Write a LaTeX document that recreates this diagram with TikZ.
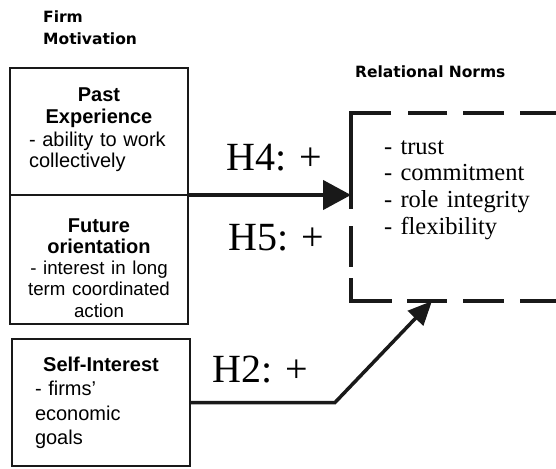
\documentclass[tikz,border=0pt]{standalone}
\usepackage{fontspec}
\setmainfont{Liberation Serif}
\setsansfont{Liberation Sans}
\newfontfamily\headfont{DejaVu Sans}
\usetikzlibrary{arrows.meta, positioning}
\tikzset{
  motive/.style={rectangle, draw=black!90, line width=1.6pt, minimum width=178pt,
                 inner sep=0pt, outer sep=0pt},
  motivetxt/.style={inner sep=0pt, anchor=base, text width=140pt,
                    font=\sffamily\fontsize{20}{22}\selectfont},
  heading/.style={inner sep=0pt, anchor=base west, text width=200pt, align=left,
                  font=\headfont\bfseries\fontsize{15.5}{22}\selectfont},
  normtxt/.style={inner sep=0pt, anchor=base west, text width=160pt, align=left,
                  font=\rmfamily\fontsize{24.5}{26.7}\selectfont},
  hyplbl/.style={inner sep=0pt, anchor=base west, font=\rmfamily\fontsize{40}{40}\selectfont},
  normline/.style={line width=3.5pt, draw=black!90},
  link/.style={-{Triangle[length=28pt, width=29pt]}, line width=4.5pt, draw=black!90},
  linkthin/.style={-{Triangle[length=24pt, width=21pt]}, line width=3.5pt, draw=black!90},
}

\begin{document}
\begin{tikzpicture}[x=1pt, y=-1pt]
    \clip (0,0) rectangle (556,468);

    % motivation side
    \node[heading] (firm) at (43,23) {Firm\\Motivation};
    \node[motive, anchor=north west, minimum height=127pt] (past) at (10,68) {};
    \node[motive, minimum height=129pt, below=0pt of past] (future) {};
    \node[motive, minimum height=127pt, below=15pt of future, xshift=2pt] (self) {};

    \node[motivetxt, below=34pt of past.north, anchor=base] (pasttxt)
        {\centering\bfseries Past\\Experience\par\raggedright\mdseries - ability to work collectively\par};
    \node[motivetxt, below=37pt of future.north, anchor=base, text width=158pt, font=\sffamily\fontsize{20}{21.3}\selectfont] (futuretxt)
        {\centering\bfseries Future\\orientation\par\mdseries\fontsize{18.7}{21.3}\selectfont - interest in long\\term coordinated\\action\par};
    \node[motivetxt, below=32pt of self.north, anchor=base, text width=132pt, font=\sffamily\fontsize{20}{24.5}\selectfont] (selftxt)
        {\centering\bfseries Self-Interest\par\raggedright\mdseries - firms’\\economic\\goals\par};

    % relational norms
    \node[heading] (normhead) at (355,78) {Relational Norms};
    \node[anchor=north west, minimum width=230pt, minimum height=188pt, inner sep=0pt, outer sep=0pt] (norms) at (351,113) {};
    \node[normtxt] (normlist) at ([xshift=33pt, yshift=-41pt]norms.north west)
        {- trust\\- commitment\\- role integrity\\- flexibility};
    \draw[normline, dash pattern=on 61pt off 16pt on 41pt off 16pt on 39pt off 17pt on 136pt off 17pt on 41pt off 11pt on 64pt off 15pt on 40pt off 16pt on 41pt off 16pt on 100pt]
        (norms.north east) -- (norms.north west) -- (norms.south west) -- (norms.south east);

    % hypotheses
    \coordinate (h2tip) at ([xshift=81pt]norms.south west);
    \draw[link] (past.south east) -- (past.south east -| norms.west);
    \draw[linkthin] (self.east) -- ++(145,0) -- (h2tip);

    \node[hyplbl] (h4) at (226,170) {H4: +};
    \node[hyplbl] (h5) at (228,250) {H5: +};
    \node[hyplbl] (h2) at (212,382) {H2: +};
\end{tikzpicture}
\end{document}
